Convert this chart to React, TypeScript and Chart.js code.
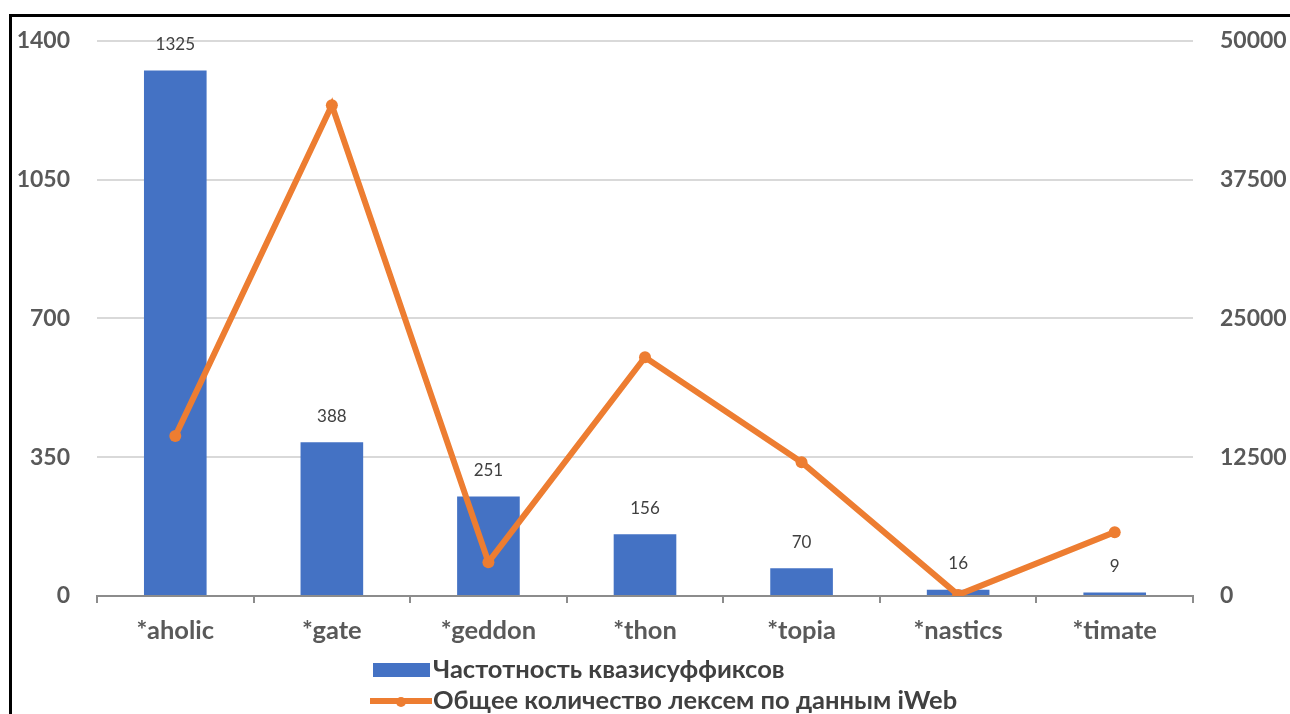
import React, { useEffect, useRef } from "react";
import { Chart, registerables } from "chart.js";

Chart.register(...registerables);

const categories = ["*aholic", "*gate", "*geddon", "*thon", "*topia", "*nastics", "*timate"];
const barLabel = "Частотность квазисуффиксов";
const lineLabel = "Общее количество лексем по данным iWeb";
const barValues = [1325, 388, 251, 156, 70, 16, 9];
const lineValues = [14400, 44200, 3050, 21500, 12050, 100, 5750];

const BLUE = "#4472C4";
const ORANGE = "#ED7D31";
const FONT = "Lato";

const barLabelsPlugin = {
  id: "barLabels",
  afterDatasetsDraw(chart: any) {
    const ctx = chart.ctx;
    const meta = chart.getDatasetMeta(0);
    ctx.save();
    ctx.font = `17px ${FONT}`;
    ctx.fillStyle = "#404040";
    ctx.textAlign = "center";
    ctx.textBaseline = "middle";
    meta.data.forEach((el: any, i: number) => {
      ctx.fillText(String(barValues[i]), el.x, el.y - 26);
    });
    ctx.restore();
  },
};

const legendPlugin = {
  id: "customLegend",
  afterDraw(chart: any) {
    const ctx = chart.ctx;
    const area = chart.chartArea;
    const left = area.left + 276;
    const textX = left + 60;
    ctx.save();
    ctx.font = `bold 25.5px ${FONT}`;
    ctx.fillStyle = "#404040";
    ctx.textAlign = "left";
    ctx.textBaseline = "middle";
    // bar item
    const y1 = area.bottom + 74;
    ctx.fillStyle = BLUE;
    ctx.fillRect(left, y1 - 7, 57, 14);
    ctx.fillStyle = "#404040";
    ctx.fillText(barLabel, textX, y1);
    // line item
    const y2 = area.bottom + 105;
    ctx.strokeStyle = ORANGE;
    ctx.lineWidth = 6;
    ctx.beginPath();
    ctx.moveTo(left - 3, y2);
    ctx.lineTo(left + 59, y2);
    ctx.stroke();
    ctx.fillStyle = ORANGE;
    ctx.beginPath();
    ctx.arc(left + 28, y2 + 1, 5, 0, Math.PI * 2);
    ctx.fill();
    ctx.fillStyle = "#404040";
    ctx.fillText(lineLabel, textX, y2);
    ctx.restore();
  },
};

export default function App() {
  const ref = useRef<HTMLCanvasElement | null>(null);
  useEffect(() => {
    if (!ref.current) return;
    const chart = new Chart(ref.current, {
      type: "bar",
      data: {
        labels: categories,
        datasets: [
          {
            type: "bar",
            label: barLabel,
            data: barValues,
            backgroundColor: BLUE,
            yAxisID: "y",
            barPercentage: 0.4,
            categoryPercentage: 1,
            order: 2,
          },
          {
            type: "line",
            label: lineLabel,
            data: lineValues,
            borderColor: ORANGE,
            backgroundColor: ORANGE,
            borderWidth: 6,
            pointRadius: 6,
            pointBorderWidth: 0,
            pointBackgroundColor: ORANGE,
            yAxisID: "y1",
            tension: 0,
            order: 1,
          } as any,
        ],
      },
      options: {
        responsive: false,
        animation: false,
        layout: { padding: { top: 40, bottom: 68, left: 0, right: 0 } },
        plugins: {
          legend: { display: false },
          tooltip: { enabled: false },
        },
        scales: {
          x: {
            grid: {
              display: true,
              drawOnChartArea: false,
              drawTicks: true,
              tickLength: 7,
              color: "#8c8c8c",
              lineWidth: 2,
              offset: true,
            },
            border: { display: true, color: "#8c8c8c", width: 2 },
            ticks: {
              color: "#595959",
              font: { family: FONT, size: 25.5, weight: "bold" },
              padding: 12,
            },
            afterFit(scale: any) {
              scale.height = 50;
            },
          },
          y: {
            position: "left",
            min: 0,
            max: 1400,
            ticks: {
              stepSize: 350,
              color: "#595959",
              font: { family: FONT, size: 23, weight: "bold" },
              padding: 27,
              callback: (v: any) => String(v),
            },
            grid: { color: "#d9d9d9", lineWidth: 2, drawTicks: false },
            border: { display: false },
            afterFit(scale: any) {
              scale.width = 97;
            },
          },
          y1: {
            position: "right",
            min: 0,
            max: 50000,
            ticks: {
              stepSize: 12500,
              color: "#595959",
              font: { family: FONT, size: 23, weight: "bold" },
              padding: 27,
              callback: (v: any) => String(v),
            },
            grid: { display: false, drawTicks: false },
            border: { display: false },
            afterFit(scale: any) {
              scale.width = 97;
            },
          },
        },
      },
      plugins: [barLabelsPlugin, legendPlugin],
    });
    return () => chart.destroy();
  }, []);

  return (
    <div style={{ position: "fixed", left: 0, top: 0, width: 1290, height: 714, background: "#fff" }}>
      <canvas ref={ref} width={1290} height={714} style={{ position: "absolute", left: 0, top: 0 }} />
      <div
        style={{
          position: "absolute",
          left: 9,
          top: 14,
          right: 0,
          bottom: 0,
          borderLeft: "3px solid #000",
          borderTop: "3px solid #000",
          pointerEvents: "none",
        }}
      />
    </div>
  );
}
